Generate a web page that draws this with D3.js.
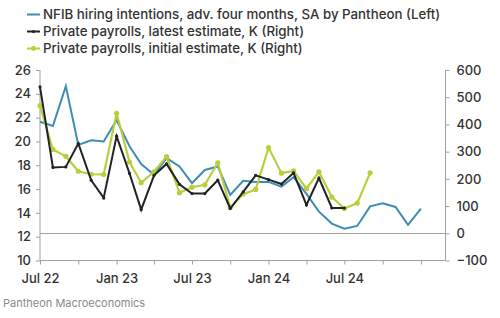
<!DOCTYPE html>
<html><head><meta charset="utf-8">
<script src="https://cdn.jsdelivr.net/npm/d3@7"></script>
<style>
html,body{margin:0;padding:0;background:#fff;}
svg{display:block;font-family:Inter,"Open Sans",sans-serif;}
</style></head>
<body><svg id="c" width="500" height="318"></svg>
<script>
const months = ["2022-07","2022-08","2022-09","2022-10","2022-11","2022-12",
"2023-01","2023-02","2023-03","2023-04","2023-05","2023-06","2023-07","2023-08","2023-09","2023-10","2023-11","2023-12",
"2024-01","2024-02","2024-03","2024-04","2024-05","2024-06","2024-07","2024-08","2024-09","2024-10","2024-11","2024-12","2025-01"];
const nfib = [21.65,21.3,24.65,19.7,20.1,20.0,21.8,19.6,18.1,17.2,18.6,17.9,16.5,17.6,17.9,15.5,16.7,16.6,16.6,16.2,17.0,15.6,14.1,13.1,12.67,12.9,14.55,14.8,14.5,13.0,14.35];
const payrollLatest = [538,242,244,330,195,130,357,220,87,213,255,180,146,146,195,91,152,213,197,181,222,104,203,93,93];
const payrollInitial = [469,308,283,228,217,216,441,262,186,226,282,149,169,178,259,95,144,161,315,221,229,164,226,133,91,111,222];
const leftTicks = [10,12,14,16,18,20,22,24,26];
const rightTicks = [-100,0,100,200,300,400,500,600];
const xTickLabels = ["Jul 22","Jan 23","Jul 23","Jan 24","Jul 24"];
const legendLabels = ["NFIB hiring intentions, adv. four months, SA by Pantheon (Left)",
 "Private payrolls, latest estimate, K (Right)",
 "Private payrolls, initial estimate, K (Right)"];
const colors = {blue:"#3d8db5", black:"#1e2326", green:"#bccd3c", axis:"#a0a0a0", text:"#333"};

const parse = d3.timeParse("%Y-%m");
const dates = months.map(parse);
const svg = d3.select("#c");
const L = 40, R = 445.5, T = 70, B = 260.5;

const x = d3.scaleTime().domain([parse("2022-07"), parse("2025-03")]).range([L, R]);
const yL = d3.scaleLinear().domain([10,26]).range([B, T]);
const yR = d3.scaleLinear().domain([-100,600]).range([B, T]);

// zero line (right axis)
svg.append("line").attr("x1",L).attr("x2",R).attr("y1",Math.round(yR(0))+0.5).attr("y2",Math.round(yR(0))+0.5)
 .attr("stroke",colors.axis).attr("stroke-width",1);

// axes
const fmt = d3.timeFormat("%b %y");
const gL = svg.append("g").attr("transform",`translate(${L},0)`)
 .call(d3.axisLeft(yL).tickValues(leftTicks).tickSize(4).tickPadding(5));
const gR = svg.append("g").attr("transform",`translate(${R},0)`)
 .call(d3.axisRight(yR).tickValues(rightTicks).tickSize(4).tickPadding(7));
const gX = svg.append("g").attr("transform",`translate(0,${B})`)
 .call(d3.axisBottom(x).ticks(d3.timeMonth.every(3)).tickSize(4).tickPadding(5)
   .tickFormat(d => xTickLabels.includes(fmt(d)) ? fmt(d) : ""));
[gL,gR,gX].forEach(g=>{
  g.selectAll("path,line").attr("stroke",colors.axis);
  g.selectAll("text").attr("fill",colors.text).attr("font-size","13px").attr("font-weight",500)
   .attr("font-family","Inter,'Open Sans',sans-serif");
});
gL.select(".domain").attr("d",`M0,${B}V${T}`);
gR.select(".domain").attr("d",`M0,${B}V${T}`);
gX.select(".domain").attr("d",`M${L},0H${R}`);
gX.selectAll("text").attr("dy","1.05em");

// lines
const lineL = d3.line().x((d,i)=>x(dates[i])).y(d=>yL(d));
const lineR = d3.line().x((d,i)=>x(dates[i])).y(d=>yR(d));
svg.append("path").datum(nfib).attr("d",lineL).attr("fill","none").attr("stroke",colors.blue).attr("stroke-width",2);
svg.append("path").datum(payrollInitial).attr("d",lineR).attr("fill","none").attr("stroke",colors.green).attr("stroke-width",2.2);
svg.append("g").selectAll("circle").data(payrollInitial).join("circle")
 .attr("cx",(d,i)=>x(dates[i])).attr("cy",d=>yR(d)).attr("r",2.6).attr("fill",colors.green);
svg.append("path").datum(payrollLatest).attr("d",lineR).attr("fill","none").attr("stroke",colors.black).attr("stroke-width",2);
svg.append("g").selectAll("circle").data(payrollLatest).join("circle")
 .attr("cx",(d,i)=>x(dates[i])).attr("cy",d=>yR(d)).attr("r",1.6).attr("fill",colors.black);

// legend
const legColors = [colors.blue, colors.black, colors.green];
const lg = svg.append("g");
legendLabels.forEach((t,i)=>{
  const y = 14.5 + i*17;
  lg.append("line").attr("x1",27).attr("x2",40).attr("y1",y).attr("y2",y).attr("stroke",legColors[i]).attr("stroke-width",2);
  if(i>0) lg.append("circle").attr("cx",33.5).attr("cy",y).attr("r",i===2?2.4:1.6).attr("fill",legColors[i]);
  lg.append("text").attr("x",43).attr("y",y).attr("dy","0.36em").attr("fill",colors.text)
    .attr("font-size","13.3px").attr("font-weight",500).text(t);
});

// source
svg.append("text").attr("x",3).attr("y",307).attr("fill","#8a8a8a").attr("font-size","11px").text("Pantheon Macroeconomics");
</script></body></html>
